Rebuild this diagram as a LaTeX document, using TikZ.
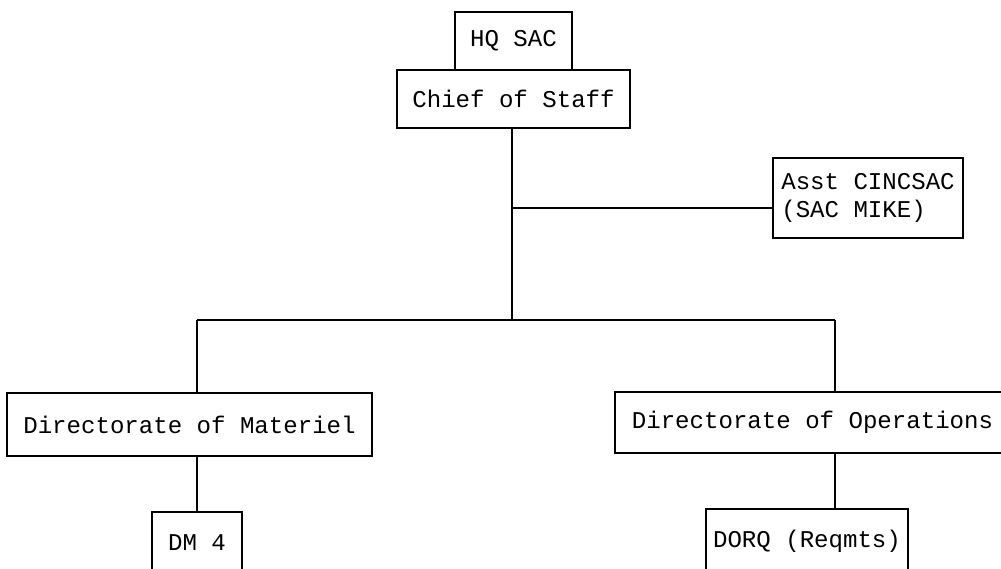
\documentclass[tikz,border=0pt]{standalone}
\usepackage{fontspec}
\setmonofont{Liberation Mono}
\tikzset{every picture/.style={/utils/exec={\ttfamily}}}
\usetikzlibrary{calc}
\usetikzlibrary{positioning}

\begin{document}
\begin{tikzpicture}[line width=0.9pt]
  \clip (0,0) rectangle (20.02,-11.38);
  \fill [white] (0,0) rectangle (20.02,-11.38);

  \begin{scope}[every node/.style={draw, inner sep=0pt, align=left, font=\fontsize{13.7}{16}\selectfont\ttfamily}]
    \node [minimum width=2.34cm, minimum height=1.16cm] (hq) at (10.27, -0.82) {HQ SAC};
    \node [minimum width=4.66cm, minimum height=1.16cm] (chief) at (10.27, -1.98) {Chief of Staff};
    \node [minimum width=3.8cm, minimum height=1.6cm] (asst) at (17.36, -3.96) {Asst CINCSAC\\(SAC MIKE)};
    \node [minimum width=7.3cm, minimum height=1.26cm] (materiel) at (3.79, -8.49) {Directorate of Materiel};
    \node [minimum width=7.9cm, minimum height=1.22cm] (operations) at (16.25, -8.45) {Directorate of Operations};
    \node [minimum width=1.8cm, minimum height=1.4cm, text height=0.67cm, text depth=0.53cm] (dm) at (3.94, -10.94) {DM 4};
    \node [minimum width=4.04cm, minimum height=1.4cm, text height=0.67cm, text depth=0.53cm] (dorq) at (16.14, -10.88) {DORQ (Reqmts)};
  \end{scope}

  \coordinate (tap) at (10.24, -4.16);
  \coordinate (spine) at (10.24, -6.4);
  \coordinate (busL) at (3.94, -6.4);
  \coordinate (busR) at (16.7, -6.4);

  \draw (chief.south -| spine) -- (spine);
  \draw (tap) -- (tap -| asst.west);
  \draw (busL) -- (busR);
  \draw (busL) -- (busL |- materiel.north);
  \draw (materiel.south -| busL) -- (dm.north);
  \draw (busR) -- (busR |- operations.north);
  \draw (operations.south -| busR) -- (busR |- dorq.north);

\end{tikzpicture}
\end{document}
